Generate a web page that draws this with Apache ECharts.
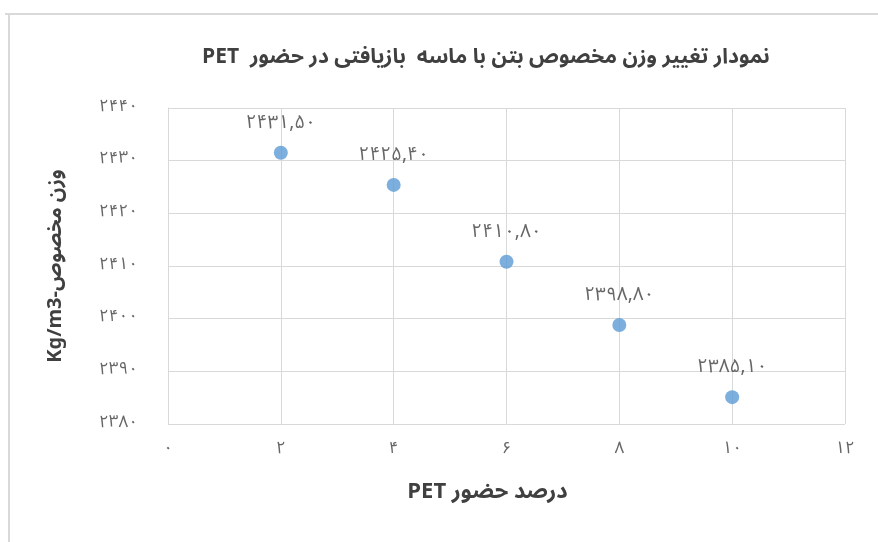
<!DOCTYPE html>
<html>
<head>
<meta charset="utf-8">
<script src="https://cdn.jsdelivr.net/npm/echarts@6/dist/echarts.min.js"></script>
<style>
  html, body { margin: 0; padding: 0; background: #ffffff; }
  #chart { width: 878px; height: 542px; }
</style>
</head>
<body>
<div id="chart"></div>
<script>
// PET content (%) against specific weight of the concrete
const petPercent = [2, 4, 6, 8, 10];
const specificWeight = [2431.5, 2425.4, 2410.8, 2398.8, 2385.1];

const titleText = 'PET  نمودار تغییر وزن مخصوص بتن با ماسه  بازیافتی در حضور';
const xAxisTitle = 'PET درصد حضور';
const yAxisTitle = 'Kg/m3-وزن مخصوص';

const FONT = '"Noto Sans Arabic", "DejaVu Sans", sans-serif';

// Western digits -> Persian digits
const faDigits = '۰۱۲۳۴۵۶۷۸۹';
function toFa(str) {
  return String(str).replace(/[0-9]/g, d => faDigits[+d]);
}

const chart = echarts.init(document.getElementById('chart'));
chart.setOption({
  backgroundColor: '#ffffff',
  animation: false,
  title: {
    text: titleText,
    left: 197,
    top: 44,
    textStyle: { fontFamily: FONT, fontSize: 21, fontWeight: 'bold', color: '#404040' }
  },
  grid: { left: 168, right: 33, top: 108, bottom: 118 },
  xAxis: {
    type: 'value',
    min: 0, max: 12, interval: 2,
    name: xAxisTitle,
    nameLocation: 'middle',
    nameGap: 60,
    nameTextStyle: { fontFamily: FONT, fontSize: 22, fontWeight: 'bold', color: '#404040', padding: [0, 38, 0, 0] },
    axisLine: { show: false },
    axisTick: { show: false },
    axisLabel: { margin: 18, fontFamily: FONT, fontSize: 17, color: '#666666', formatter: v => toFa(v) },
    splitLine: { show: true, lineStyle: { color: '#d9d9d9', width: 1 } }
  },
  yAxis: {
    type: 'value',
    min: 2380, max: 2440, interval: 10,
    name: yAxisTitle,
    nameLocation: 'middle',
    nameGap: 100,
    nameRotate: 90,
    nameTextStyle: { fontFamily: FONT, fontSize: 20, fontWeight: 'bold', color: '#404040' },
    axisLine: { show: true, lineStyle: { color: '#d9d9d9', width: 1 } },
    axisTick: { show: false },
    axisLabel: { margin: 30, fontFamily: FONT, fontSize: 17, color: '#666666', formatter: v => toFa(v) },
    splitLine: { show: true, lineStyle: { color: '#d9d9d9', width: 1 } }
  },
  series: [{
    type: 'scatter',
    data: petPercent.map((x, i) => [x, specificWeight[i]]),
    symbol: 'circle',
    symbolSize: 14,
    itemStyle: { color: '#5b9bd5' },
    label: {
      show: true,
      position: 'top',
      distance: 11,
      fontFamily: FONT,
      fontSize: 19,
      color: '#404040',
      formatter: p => toFa(p.value[1].toFixed(2).replace('.', ','))
    }
  }],
  graphic: [
    { type: 'line', shape: { x1: 5, y1: 14, x2: 878, y2: 14 }, style: { stroke: '#d9d9d9', lineWidth: 2 } },
    { type: 'line', shape: { x1: 9, y1: 14, x2: 9, y2: 542 }, style: { stroke: '#d9d9d9', lineWidth: 2 } }
  ]
});
</script>
</body>
</html>
